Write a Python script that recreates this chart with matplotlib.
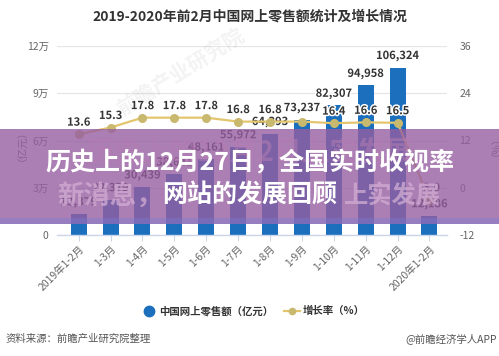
import matplotlib
matplotlib.use("Agg")
import matplotlib.pyplot as plt
import matplotlib.patheffects as pe
from matplotlib.patches import Rectangle
from matplotlib.lines import Line2D
import numpy as np

plt.rcParams['font.family'] = ['Noto Sans CJK SC', 'DejaVu Sans']

categories = ["2019年1-2月", "1-3月", "1-4月", "1-5月", "1-6月", "1-7月",
              "1-8月", "1-9月", "1-10月", "1-11月", "1-12月", "2020年1-2月"]
sales = [13379, 22379, 30439, 38641, 48161, 55972,
         64393, 73237, 82307, 94958, 106324, 12186]
growth = [13.6, 15.3, 17.8, 17.8, 17.8, 16.8, 16.8, 16.8, 16.4, 16.6, 16.5, -3.0]
show_growth_label = [True, True, True, True, True, True, True, False, True, True, True, True]
left_ticks = [0, 30000, 60000, 90000, 120000]
left_ticklabels = ["0", "3万", "6万", "9万", "12万"]
right_ticks = [-12, 0, 12, 24, 36]

title = "2019-2020年前2月中国网上零售额统计及增长情况"
legend_labels = ["中国网上零售额（亿元）", "增长率（%）"]
source_text = "资料来源：前瞻产业研究院整理"
credit_text = "@前瞻经济学人APP"
banner_line1 = "历史上的12月27日，全国实时收视率"
banner_line2 = "网站的发展回顾"

W, H = 499, 356
fig = plt.figure(figsize=(W / 100, H / 100), dpi=100)
fig.patch.set_facecolor("white")

def fx(px):
    return px / W

def fy(py):
    return 1 - py / H

ax = fig.add_axes([fx(57), fy(235), fx(447) - fx(57), fy(46) - fy(235)])
ax2 = ax.twinx()

x = np.arange(len(categories))
bar_color = "#1c6fbd"
line_color = "#e3c56e"
marker_face = "#c9b96e"

ax.bar(x, sales, width=0.5, color=bar_color, zorder=2)
ax.set_xlim(-0.68, 11.55)
ax.set_ylim(0, 120000)
ax.set_yticks(left_ticks)
ax.set_yticklabels(left_ticklabels)
ax.grid(axis="y", color="#e6e6e6", linewidth=0.9, zorder=0)
ax.set_axisbelow(True)
for s in ["top", "right", "left"]:
    ax.spines[s].set_visible(False)
ax.spines["bottom"].set_color("#ccd6eb")
ax.spines["bottom"].set_linewidth(1.0)
ax.tick_params(axis="y", length=0, pad=6, labelsize=7.5, labelcolor="#666666")
ax.tick_params(axis="x", length=4, color="#ccd6eb", pad=2, labelsize=7.5, labelcolor="#666666")
ax.set_xticks(x)
ax.set_xticklabels(categories, rotation=45, ha="right", rotation_mode="anchor")
ax.set_ylabel("（亿元）", fontsize=7.5, color="#666666", labelpad=3)

ax2.set_ylim(-12, 36)
ax2.set_yticks(right_ticks)
ax2.set_yticklabels([str(v) for v in right_ticks])
for s in ["top", "right", "left", "bottom"]:
    ax2.spines[s].set_visible(False)
ax2.tick_params(axis="y", length=0, pad=9, labelsize=7.5, labelcolor="#666666")
ax2.set_ylabel("（%）", fontsize=7.5, color="#666666", labelpad=8)
ax2.plot(x, growth, color=line_color, linewidth=1.6, marker="o", markersize=5.5,
         markerfacecolor=marker_face, markeredgecolor=marker_face, zorder=3)

outline = [pe.withStroke(linewidth=2.2, foreground="white")]
for xi, v in zip(x, sales):
    ax.annotate(f"{v:,}", (xi, v), xytext=(0, 4), textcoords="offset points",
                ha="center", va="bottom", fontsize=8, fontweight="bold",
                color="#333333", path_effects=outline, zorder=4)
for xi, g, show in zip(x, growth, show_growth_label):
    if show:
        ax2.annotate(f"{g:.1f}", (xi, g), xytext=(0, 4), textcoords="offset points",
                     ha="center", va="bottom", fontsize=8, fontweight="bold",
                     color="#333333", path_effects=outline, zorder=4)

# watermark
fig.text(fx(180), fy(72), "前瞻产业研究院", rotation=32, fontsize=15, color="#000000",
         alpha=0.05, ha="center", va="center", fontweight="bold")

# title
fig.text(fx(250), fy(17), title, ha="center", va="center", fontsize=10,
         fontweight="bold", color="#333333")

# legend
fig.add_artist(Line2D([fx(149)], [fy(311)], marker="o", markersize=7.5, color=bar_color,
                      linestyle="none", transform=fig.transFigure))
fig.text(fx(159), fy(311), legend_labels[0], ha="left", va="center", fontsize=7.5,
         fontweight="bold", color="#333333")
fig.add_artist(Line2D([fx(284), fx(300)], [fy(311), fy(311)], color=line_color,
                      linewidth=1.6, transform=fig.transFigure))
fig.add_artist(Line2D([fx(292)], [fy(311)], marker="o", markersize=4.5, color=marker_face,
                      linestyle="none", transform=fig.transFigure))
fig.text(fx(303), fy(311), legend_labels[1], ha="left", va="center", fontsize=7.5,
         fontweight="bold", color="#333333")

# footer
fig.text(fx(6), fy(339), source_text, ha="left", va="center", fontsize=7.5, color="#555555")
fig.text(fx(497), fy(339), credit_text, ha="right", va="center", fontsize=7.5, color="#555555")

# banner overlay
banner = Rectangle((0, fy(224)), 1, fy(129) - fy(224), transform=fig.transFigure,
                   facecolor=(0.59, 0.37, 0.63), alpha=0.8, edgecolor="none", zorder=5)
fig.add_artist(banner)
band = Rectangle((0, fy(224)), 1, fy(218) - fy(224), transform=fig.transFigure,
                 facecolor=(0.45, 0.50, 0.85), alpha=0.35, edgecolor="none", zorder=5)
fig.add_artist(band)

ghost_color = "#d2aed4"
fig.text(fx(57), fy(197), "新消息，", ha="left", va="center", fontsize=19,
         fontweight="bold", color=ghost_color, alpha=0.75, zorder=6)
fig.text(fx(441), fy(196), "上实发展", ha="right", va="center", fontsize=17.5,
         fontweight="bold", color=ghost_color, alpha=0.75, zorder=6)
fig.text(fx(250), fy(153), "历史上的12月2日上实发展", ha="center", va="center", fontsize=20,
         fontweight="bold", color="#b57db3", alpha=0.5, zorder=6)

fig.text(fx(250), fy(163), banner_line1, ha="center", va="center", fontsize=18,
         fontweight="bold", color="white", zorder=7)
fig.text(fx(250), fy(196), banner_line2, ha="center", va="center", fontsize=18,
         fontweight="bold", color="white", zorder=7)

fig.savefig("out.png", dpi=100)
